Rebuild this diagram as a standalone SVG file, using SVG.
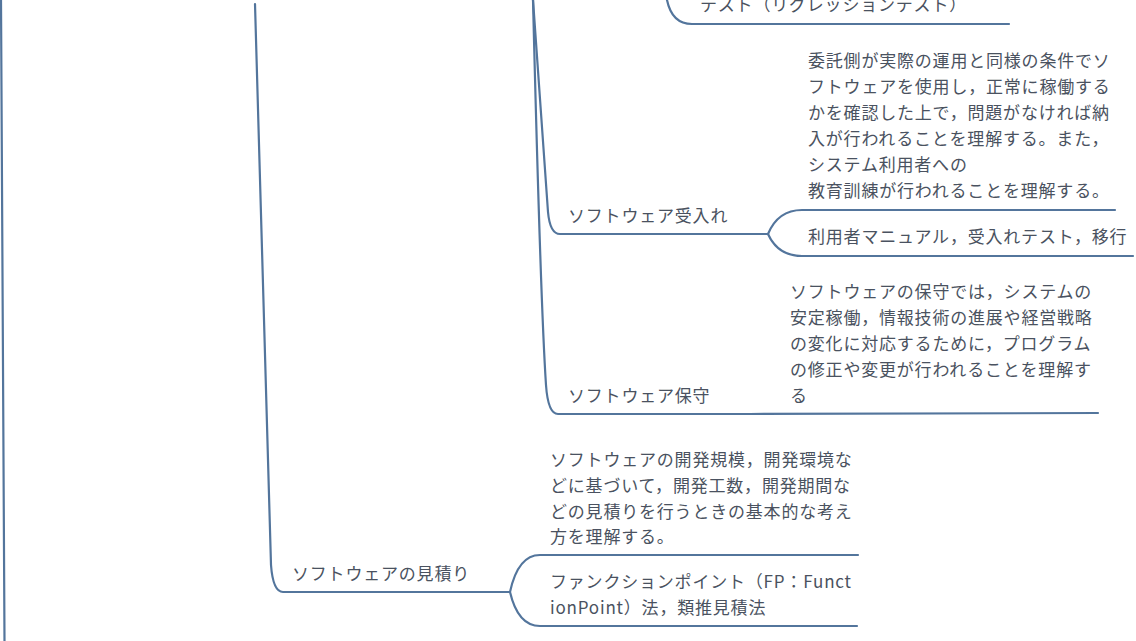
<svg xmlns="http://www.w3.org/2000/svg" width="1136" height="641" viewBox="0 0 1136 641">
<style>
.c{fill:none;stroke:#53759c;stroke-width:2.2;stroke-linecap:round;stroke-linejoin:round}
text{font-family:"Noto Sans CJK JP","Noto Sans",sans-serif;font-size:17px;fill:#4a5260;letter-spacing:0.8px}
</style>
<rect width="1136" height="641" fill="#ffffff"/>
<g id="connectors">
<path class="c" d="M1,0 L4.5,641"/>
<path class="c" d="M255,4 C262,300 268,520 271,565 Q273,592 283,592 L510,592"/>
<path class="c" d="M510,592 Q518,555 540,555 L858,555"/>
<path class="c" d="M510,592 Q518,626 540,626 L857,626"/>
<path class="c" d="M533,0 C538,200 543,340 546,385 Q548,414 558,414 L750,414 L1098,413"/>
<path class="c" d="M533,0 C540,100 546,180 548,212 Q550,234 560,234 L768,234"/>
<path class="c" d="M768,234 Q778,210 802,210 L1115,210"/>
<path class="c" d="M768,234 Q778,256 802,256 L1133,256"/>
<path class="c" d="M667,0 Q672,24 692,24 L1009,24"/>
</g>
<g id="node-regression">
<text x="700" y="11">テスト（リグレッションテスト）</text>
</g>
<g id="node-acceptance">
<text x="568" y="222">ソフトウェア受入れ</text>
</g>
<g id="node-acceptance-desc">
<text x="808" y="67">委託側が実際の運用と同様の条件でソ</text>
<text x="808" y="93">フトウェアを使用し，正常に稼働する</text>
<text x="808" y="119">かを確認した上で，問題がなければ納</text>
<text x="808" y="145">入が行われることを理解する。また，</text>
<text x="808" y="171">システム利用者への</text>
<text x="808" y="197">教育訓練が行われることを理解する。</text>
</g>
<g id="node-acceptance-terms">
<text x="808" y="243">利用者マニュアル，受入れテスト，移行</text>
</g>
<g id="node-maintenance">
<text x="568" y="402">ソフトウェア保守</text>
</g>
<g id="node-maintenance-desc">
<text x="790" y="298">ソフトウェアの保守では，システムの</text>
<text x="790" y="324">安定稼働，情報技術の進展や経営戦略</text>
<text x="790" y="350">の変化に対応するために，プログラム</text>
<text x="790" y="376">の修正や変更が行われることを理解す</text>
<text x="790" y="402">る</text>
</g>
<g id="node-estimate">
<text x="292" y="580">ソフトウェアの見積り</text>
</g>
<g id="node-estimate-desc">
<text x="550" y="466">ソフトウェアの開発規模，開発環境な</text>
<text x="550" y="492">どに基づいて，開発工数，開発期間な</text>
<text x="550" y="518">どの見積りを行うときの基本的な考え</text>
<text x="550" y="543">方を理解する。</text>
</g>
<g id="node-estimate-terms">
<text x="550" y="588">ファンクションポイント（FP：Funct</text>
<text x="550" y="614">ionPoint）法，類推見積法</text>
</g>
</svg>
